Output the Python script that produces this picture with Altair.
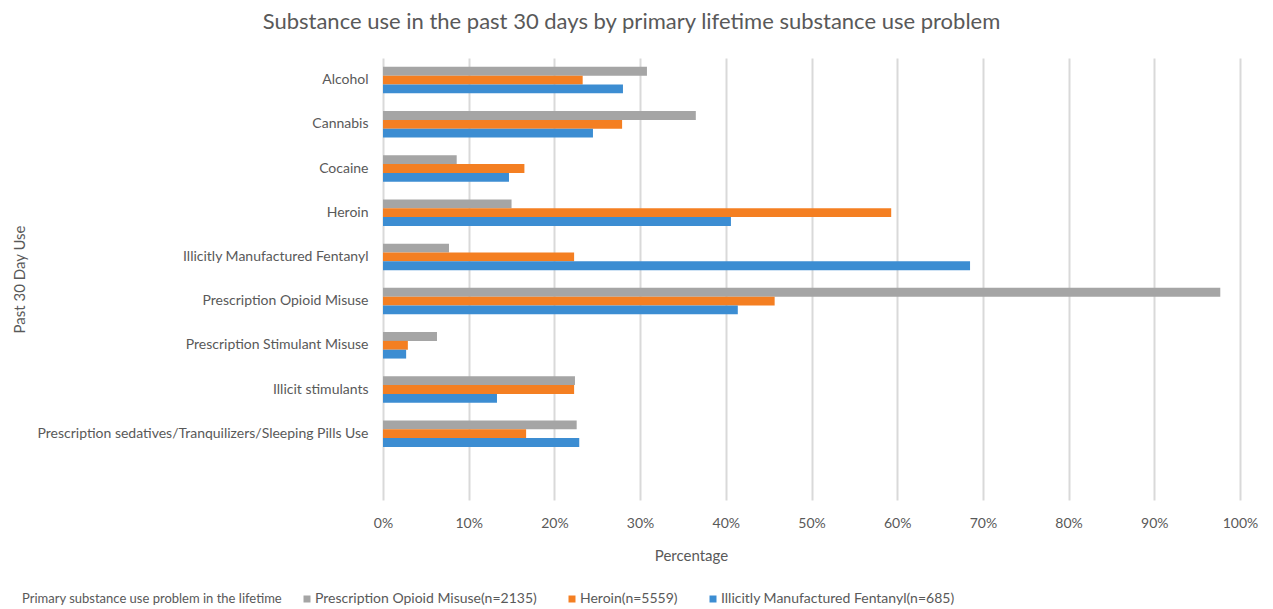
import altair as alt
import pandas as pd

# Past-30-day substance use, by primary lifetime substance use problem (%)
categories = [
    "Alcohol",
    "Cannabis",
    "Cocaine",
    "Heroin",
    "Illicitly Manufactured Fentanyl",
    "Prescription Opioid Misuse",
    "Prescription Stimulant Misuse",
    "Illicit stimulants",
    "Prescription sedatives/Tranquilizers/Sleeping Pills Use",
]
series_names = [
    "Prescription Opioid Misuse(n=2135)",
    "Heroin(n=5559)",
    "Illicitly Manufactured Fentanyl(n=685)",
]
pom = [30.8, 36.5, 8.6, 15.0, 7.7, 97.7, 6.3, 22.4, 22.6]
heroin = [23.3, 27.9, 16.5, 59.3, 22.3, 45.7, 2.9, 22.3, 16.7]
imf = [28.0, 24.5, 14.7, 40.6, 68.5, 41.4, 2.7, 13.3, 22.9]
colors = ["#A5A5A5", "#F47F22", "#3C8DD2"]
x_ticks = list(range(0, 101, 10))

rows = []
for name, vals in zip(series_names, [pom, heroin, imf]):
    for cat, v in zip(categories, vals):
        rows.append({"category": cat, "series": name, "value": v})
df = pd.DataFrame(rows)

FONT = "Lato"
GREY_TEXT = "#595959"

bars = alt.Chart(df).mark_bar().encode(
    x=alt.X(
        "value:Q",
        scale=alt.Scale(domain=[0, 100], nice=False),
        axis=alt.Axis(
            values=x_ticks,
            labelExpr="datum.value + '%'",
            labelFlush=False,
            grid=True,
            gridColor="#D9D9D9",
            gridWidth=2,
            domain=False,
            ticks=False,
            labelPadding=16,
            labelFontSize=14,
            labelColor=GREY_TEXT,
            labelFont=FONT,
            title="Percentage",
            titleFont=FONT,
            titleFontSize=15,
            titleFontWeight="normal",
            titleColor=GREY_TEXT,
            titleX=308,
            titleY=48,
        ),
    ),
    y=alt.Y(
        "category:N",
        scale=alt.Scale(domain=categories + [" "], paddingInner=0.4, paddingOuter=0.2),
        axis=alt.Axis(
            domain=False,
            grid=False,
            ticks=False,
            labelPadding=15,
            labelFontSize=14,
            labelColor=GREY_TEXT,
            labelFont=FONT,
            labelLimit=400,
            title="Past 30 Day Use",
            titleFont=FONT,
            titleFontSize=15,
            titleFontWeight="normal",
            titleColor=GREY_TEXT,
            titleX=-356,
            titleY=221,
        ),
    ),
    yOffset=alt.YOffset("series:N", scale=alt.Scale(domain=series_names)),
    color=alt.Color(
        "series:N",
        scale=alt.Scale(domain=series_names, range=colors),
        legend=alt.Legend(
            title="Primary substance use problem in the lifetime",
            titleOrient="left",
            titleLimit=400,
            titleFont=FONT,
            titleFontSize=13,
            titleFontWeight="normal",
            titleColor=GREY_TEXT,
            titlePadding=17,
            direction="horizontal",
            orient="none",
            legendX=-361,
            legendY=534,
            symbolType="square",
            symbolSize=49,
            symbolStrokeWidth=0,
            labelFont=FONT,
            labelFontSize=14,
            labelColor=GREY_TEXT,
            labelOffset=1,
            labelLimit=400,
            columnPadding=28,
        ),
    ),
)

chart = bars.properties(
    width=857,
    height=442,
    background="white",
    title=alt.TitleParams(
        "Substance use in the past 30 days by primary lifetime substance use problem",
        font=FONT,
        fontSize=22,
        fontWeight="normal",
        color=GREY_TEXT,
        anchor="middle",
        dx=-180,
        offset=24,
    ),
    autosize=alt.AutoSizeParams(type="none"),
    padding={"left": 383, "top": 58, "right": 33, "bottom": 109},
).configure_view(strokeWidth=0, stroke=None)

chart.save("out.html", embed_options={"renderer": "svg", "actions": False})
